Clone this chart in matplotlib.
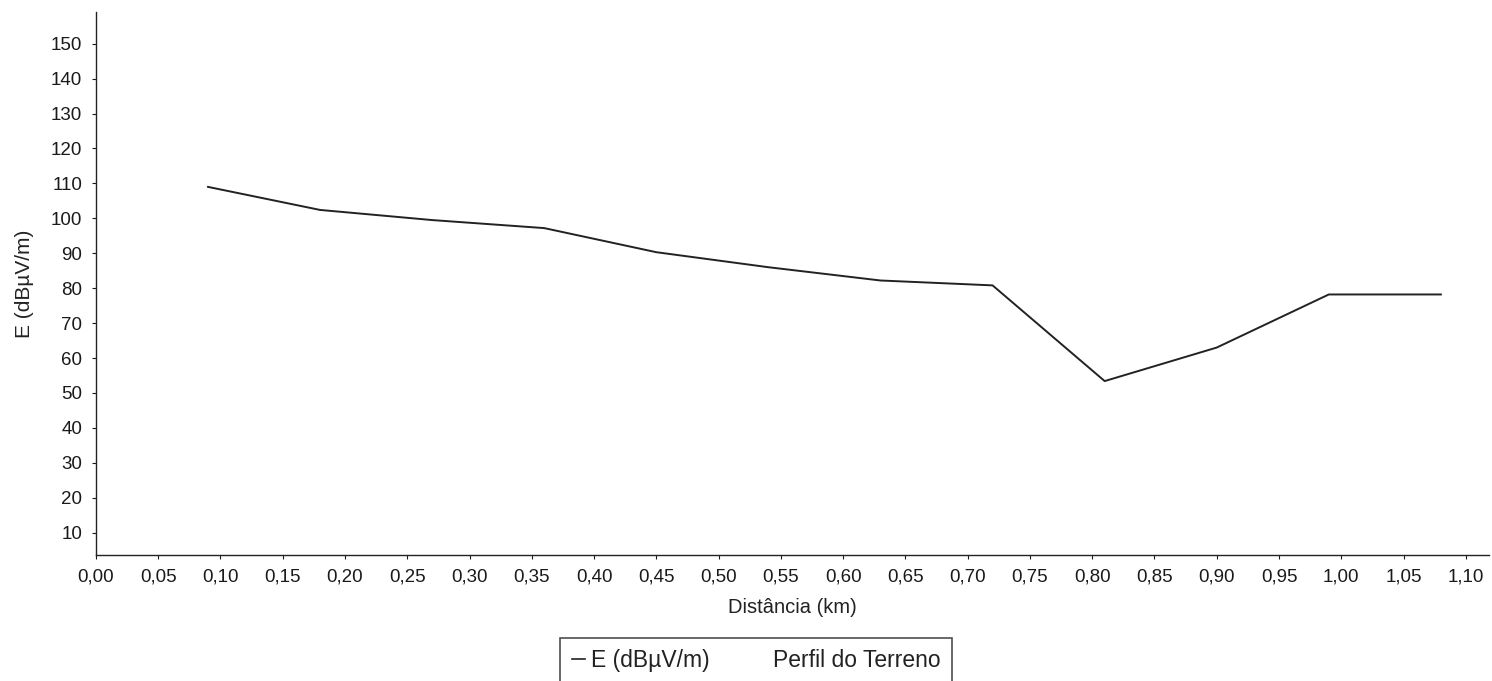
import matplotlib
matplotlib.use("Agg")
import matplotlib.pyplot as plt
from matplotlib.lines import Line2D
from matplotlib.ticker import FuncFormatter

plt.rcParams['font.family'] = ['Liberation Sans', 'DejaVu Sans']

distancia_km = [0.09, 0.18, 0.27, 0.36, 0.45, 0.54, 0.63, 0.72, 0.81, 0.90, 0.99, 1.08]
e_dbuvm = [109.0, 102.4, 99.5, 97.2, 90.3, 86.0, 82.2, 80.8, 53.4, 63.0, 78.2, 78.2]
x_ticks = [round(0.05 * i, 2) for i in range(23)]
y_ticks = list(range(10, 151, 10))

fig = plt.figure(figsize=(14.92, 6.81), dpi=100)
ax = fig.add_axes([0.0643, 0.185, 0.934, 0.797])

ax.plot(distancia_km, e_dbuvm, color='#222222', linewidth=1.4, label='E (dBµV/m)')

ax.set_xlim(0.0, 1.119)
ax.set_ylim(3.6, 159)
ax.set_xticks(x_ticks)
ax.set_yticks(y_ticks)
ax.xaxis.set_major_formatter(FuncFormatter(lambda v, p: f"{v:.2f}".replace('.', ',')))
ax.tick_params(axis='both', labelsize=13.5, length=3, width=0.8, colors='#1a1a1a', pad=7)

for s in ['top', 'right']:
    ax.spines[s].set_visible(False)
for s in ['left', 'bottom']:
    ax.spines[s].set_color('#222222')
    ax.spines[s].set_linewidth(1.0)

ax.set_xlabel('Distância (km)', fontsize=14.5, color='#222222', labelpad=9)
ax.set_ylabel('E (dBµV/m)', fontsize=15, color='#222222', labelpad=12)

handles = [Line2D([], [], color='#222222', linewidth=1.2),
           Line2D([], [], color='none', linewidth=0)]
leg = fig.legend(handles, ['E (dBµV/m)', 'Perfil do Terreno'], loc='upper center',
                 bbox_to_anchor=(0.5067, 0.0631), ncol=2, fontsize=16.5, frameon=True,
                 fancybox=False, edgecolor='#222222', handlelength=0.6, handletextpad=0.25,
                 columnspacing=1.9, borderpad=0.5, borderaxespad=0)
leg.get_frame().set_linewidth(1.2)
for t in leg.get_texts():
    t.set_color('#222222')

fig.savefig('out.png', dpi=100)
